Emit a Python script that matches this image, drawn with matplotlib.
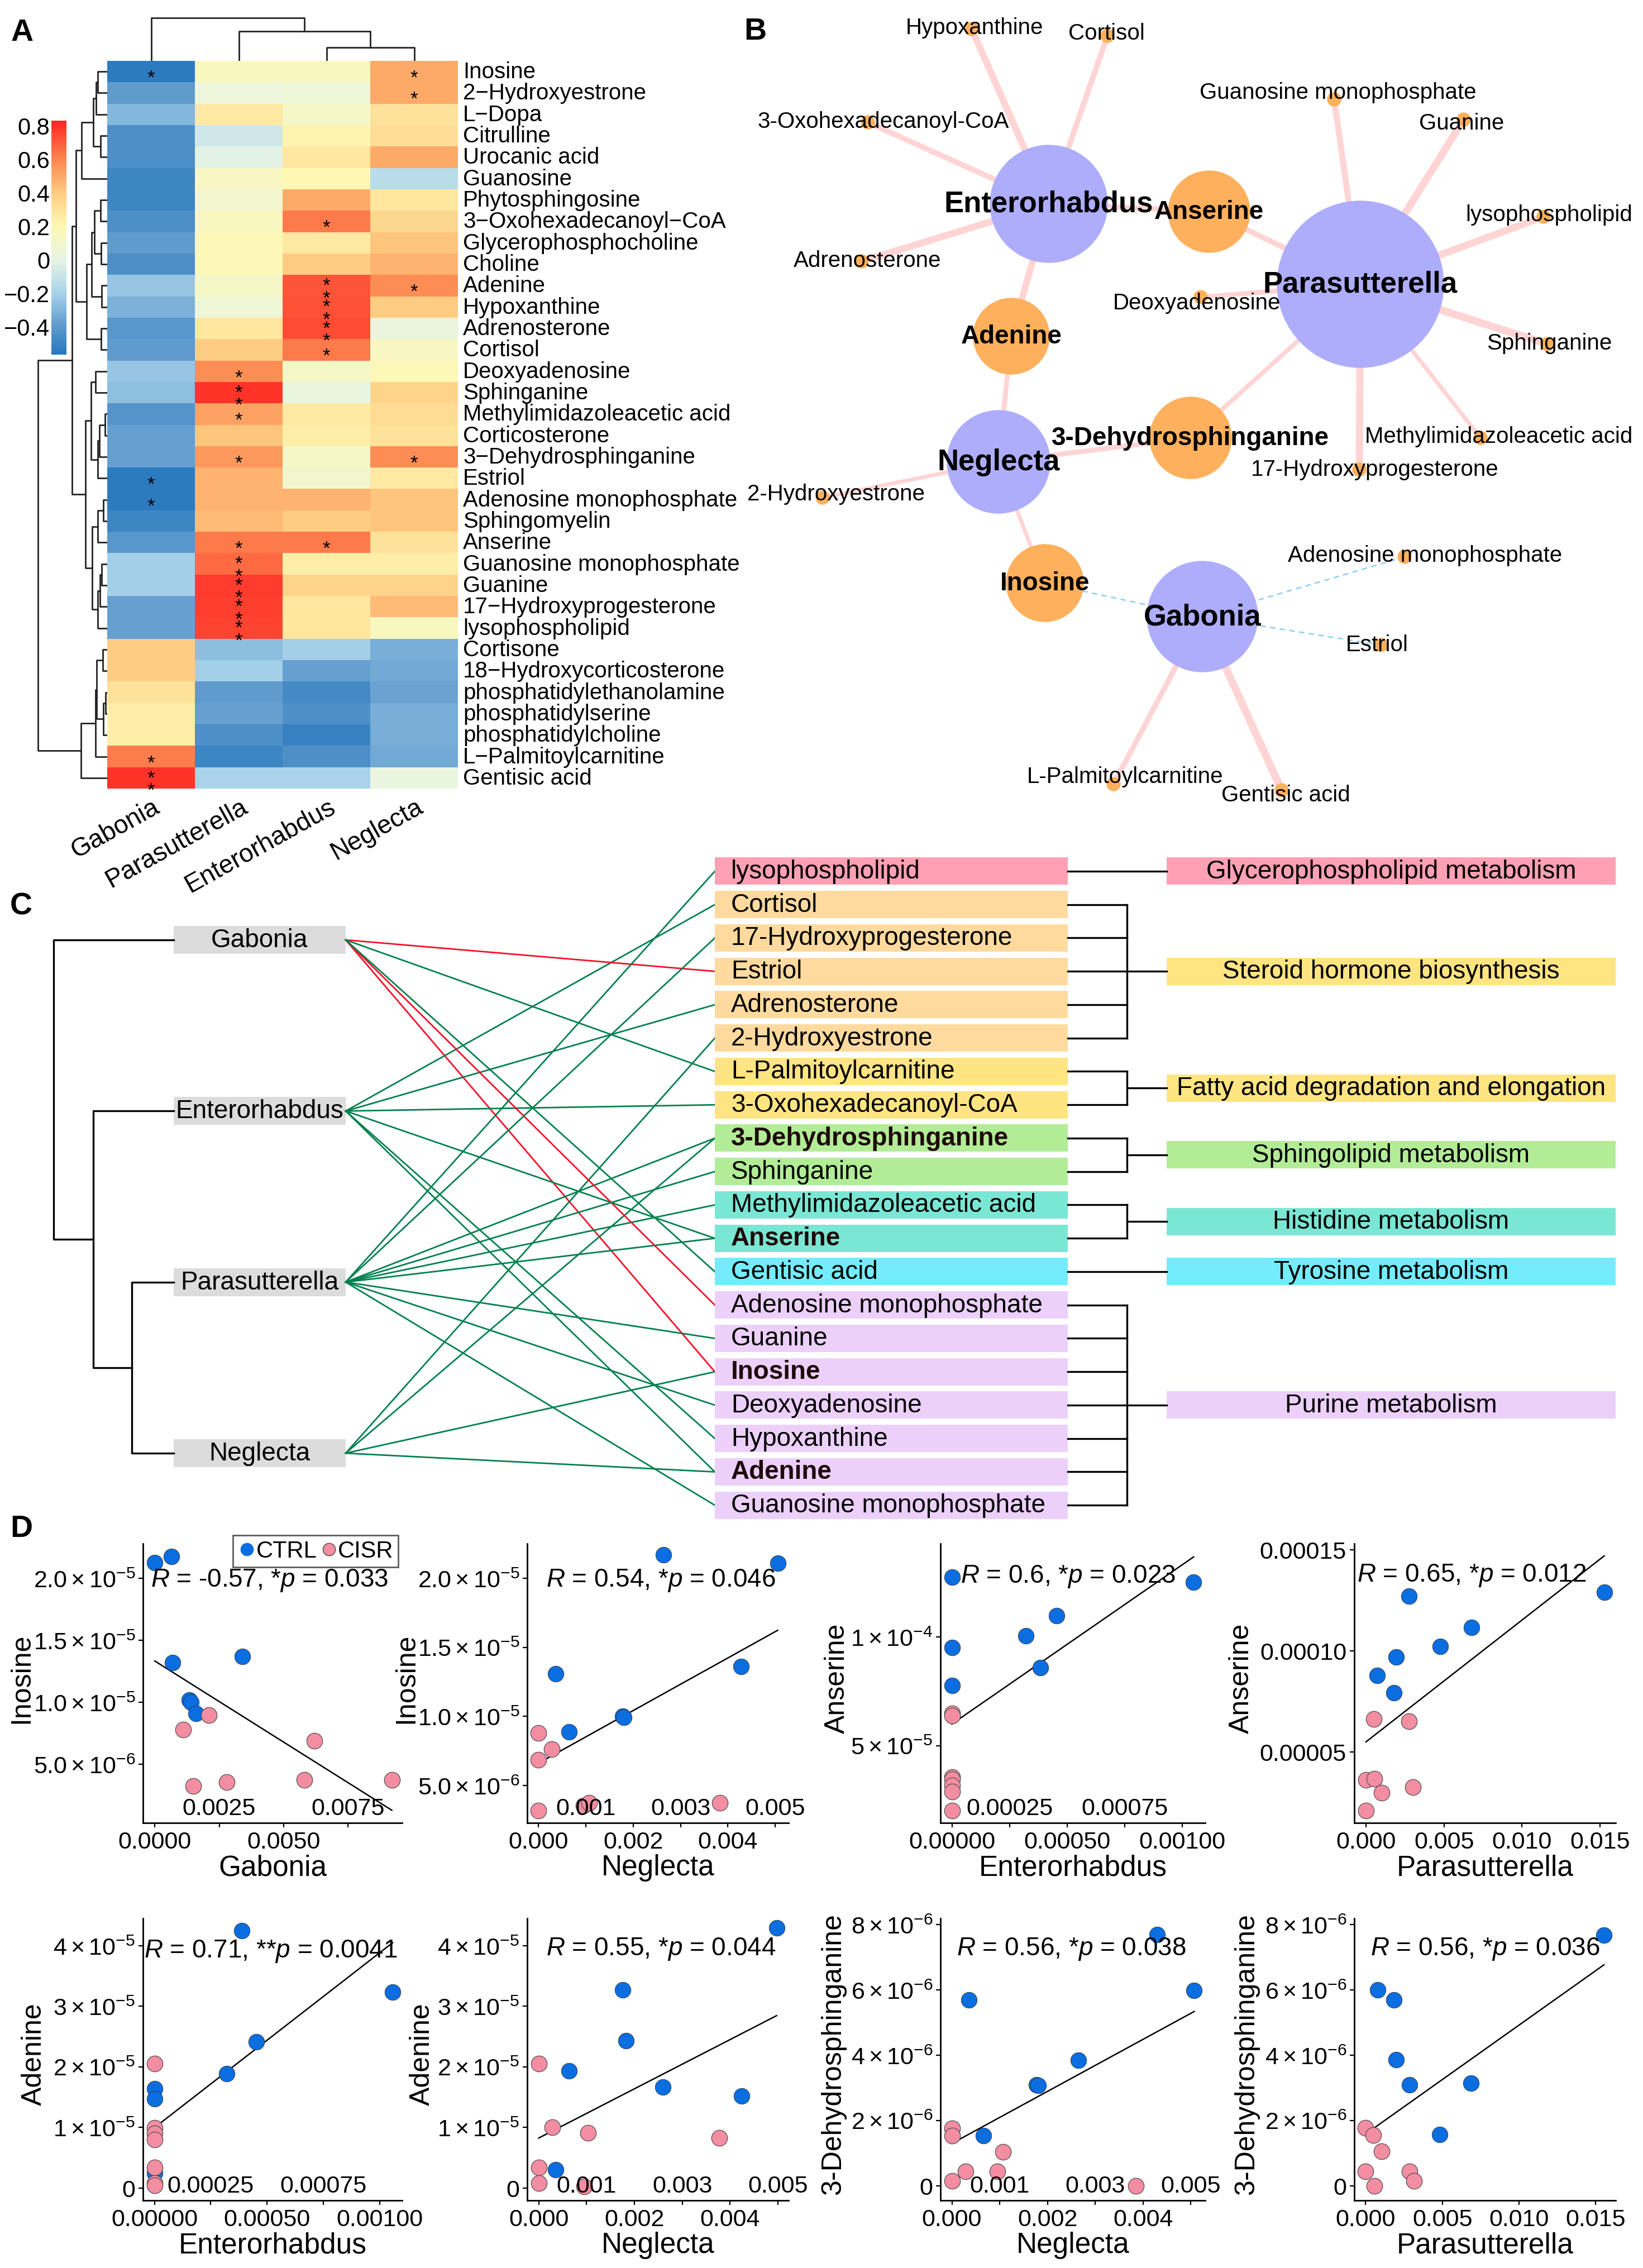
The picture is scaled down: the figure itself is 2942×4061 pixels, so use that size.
import numpy as np
import matplotlib
matplotlib.use("Agg")
import matplotlib.pyplot as plt
from matplotlib.colors import LinearSegmentedColormap
from matplotlib.patches import Rectangle, Circle
from matplotlib.lines import Line2D

plt.rcParams["font.family"] = ["Liberation Sans", "DejaVu Sans"]
plt.rcParams["mathtext.fontset"] = "custom"
plt.rcParams["mathtext.rm"] = "Liberation Sans"
plt.rcParams["mathtext.it"] = "Liberation Sans:italic"
plt.rcParams["mathtext.bf"] = "Liberation Sans:bold"

W, H = 2942, 4062

# ---------------- A: correlation heatmap ----------------
hm_taxa = ["Gabonia", "Parasutterella", "Enterorhabdus", "Neglecta"]
hm_metabolites = [
    "Inosine", "2-Hydroxyestrone", "L-Dopa", "Citrulline", "Urocanic acid",
    "Guanosine", "Phytosphingosine", "3-Oxohexadecanoyl-CoA",
    "Glycerophosphocholine", "Choline", "Adenine", "Hypoxanthine",
    "Adrenosterone", "Cortisol", "Deoxyadenosine", "Sphinganine",
    "Methylimidazoleacetic acid", "Corticosterone", "3-Dehydrosphinganine",
    "Estriol", "Adenosine monophosphate", "Sphingomyelin", "Anserine",
    "Guanosine monophosphate", "Guanine", "17-Hydroxyprogesterone",
    "lysophospholipid", "Cortisone", "18-Hydroxycorticosterone",
    "phosphatidylethanolamine", "phosphatidylserine", "phosphatidylcholine",
    "L-Palmitoylcarnitine", "Gentisic acid",
]
hm_gabonia = [-0.55, -0.40, -0.30, -0.45, -0.45, -0.50, -0.50, -0.45, -0.40, -0.45,
              -0.25, -0.32, -0.42, -0.40, -0.25, -0.27, -0.43, -0.38, -0.38, -0.55,
              -0.55, -0.50, -0.42, -0.22, -0.22, -0.38, -0.38, 0.40, 0.40, 0.30,
              0.25, 0.25, 0.62, 0.80]
hm_parasutterella = [0.15, 0.04, 0.27, -0.08, -0.02, 0.14, 0.10, 0.15, 0.18, 0.18,
                     0.12, 0.06, 0.28, 0.40, 0.58, 0.80, 0.52, 0.42, 0.55, 0.47,
                     0.47, 0.45, 0.63, 0.67, 0.78, 0.77, 0.76, -0.28, -0.22, -0.40,
                     -0.38, -0.45, -0.50, -0.20]
hm_enterorhabdus = [0.15, 0.05, 0.12, 0.22, 0.28, 0.20, 0.50, 0.63, 0.27, 0.40,
                    0.72, 0.73, 0.74, 0.63, 0.12, 0.02, 0.27, 0.25, 0.12, 0.10,
                    0.47, 0.40, 0.63, 0.25, 0.37, 0.28, 0.28, -0.22, -0.38, -0.48,
                    -0.45, -0.52, -0.45, -0.20]
hm_neglecta = [0.50, 0.50, 0.30, 0.32, 0.50, -0.15, 0.28, 0.35, 0.42, 0.47,
               0.58, 0.40, 0.03, 0.13, 0.18, 0.37, 0.33, 0.30, 0.58, 0.27,
               0.42, 0.42, 0.30, 0.25, 0.37, 0.45, 0.15, -0.33, -0.35, -0.37,
               -0.33, -0.33, -0.35, 0.02]

# row clustering: (child, child, height) scipy-style ids
row_tree = [
    (0, 1, 16.7), (34, 2, 20.0), (3, 4, 11.7), (35, 36, 25.0), (37, 5, 46.0),
    (6, 7, 11.7), (8, 9, 10.7), (39, 40, 22.7), (10, 11, 10.0), (41, 42, 28.3),
    (12, 13, 10.7), (43, 44, 37.3), (38, 45, 56.0), (14, 15, 20.7), (16, 17, 4.0),
    (48, 18, 14.0), (49, 19, 17.3), (47, 50, 29.3), (20, 21, 7.3), (52, 22, 16.7),
    (23, 24, 10.0), (54, 25, 13.3), (55, 26, 16.7), (53, 56, 26.7), (51, 57, 39.3),
    (46, 58, 63.3), (27, 28, 8.3), (29, 30, 3.3), (61, 31, 7.3), (60, 62, 19.3),
    (63, 32, 20.7), (64, 33, 47.3), (59, 65, 124.0),
]
col_tree = [(2, 3, 24), (1, 4, 53), (0, 5, 77)]

# significant pairs (metabolite, taxon, number of stars)
sig = [
    ("Inosine", "Gabonia", 1), ("Inosine", "Neglecta", 1),
    ("2-Hydroxyestrone", "Neglecta", 1),
    ("3-Oxohexadecanoyl-CoA", "Enterorhabdus", 1),
    ("Adenine", "Enterorhabdus", 2), ("Adenine", "Neglecta", 1),
    ("Hypoxanthine", "Enterorhabdus", 2),
    ("Adrenosterone", "Enterorhabdus", 2),
    ("Cortisol", "Enterorhabdus", 1),
    ("Deoxyadenosine", "Parasutterella", 1),
    ("Sphinganine", "Parasutterella", 2),
    ("Methylimidazoleacetic acid", "Parasutterella", 1),
    ("3-Dehydrosphinganine", "Parasutterella", 1), ("3-Dehydrosphinganine", "Neglecta", 1),
    ("Estriol", "Gabonia", 1),
    ("Adenosine monophosphate", "Gabonia", 1),
    ("Anserine", "Parasutterella", 1), ("Anserine", "Enterorhabdus", 1),
    ("Guanosine monophosphate", "Parasutterella", 2),
    ("Guanine", "Parasutterella", 2),
    ("17-Hydroxyprogesterone", "Parasutterella", 2),
    ("lysophospholipid", "Parasutterella", 2),
    ("L-Palmitoylcarnitine", "Gabonia", 1),
    ("Gentisic acid", "Gabonia", 2),
]

# ---------------- C: pathways ----------------
c_taxa = ["Gabonia", "Enterorhabdus", "Parasutterella", "Neglecta"]
c_tree = [(2, 3, 75), (1, 4, 144), (0, 5, 215)]
pathways = ["Glycerophospholipid metabolism", "Steroid hormone biosynthesis",
            "Fatty acid degradation and elongation", "Sphingolipid metabolism",
            "Histidine metabolism", "Tyrosine metabolism", "Purine metabolism"]
pathway_members = [
    ["lysophospholipid"],
    ["Cortisol", "17-Hydroxyprogesterone", "Estriol", "Adrenosterone", "2-Hydroxyestrone"],
    ["L-Palmitoylcarnitine", "3-Oxohexadecanoyl-CoA"],
    ["3-Dehydrosphinganine", "Sphinganine"],
    ["Methylimidazoleacetic acid", "Anserine"],
    ["Gentisic acid"],
    ["Adenosine monophosphate", "Guanine", "Inosine", "Deoxyadenosine",
     "Hypoxanthine", "Adenine", "Guanosine monophosphate"],
]

# ---------------- D: scatter data ----------------
ino_gab_ctrl_x = [0.0, 0.00065, 0.00069, 0.0034, 0.00135, 0.0014, 0.0016]
ino_gab_ctrl_y = [2.125e-5, 2.175e-5, 1.32e-5, 1.37e-5, 1.02e-5, 1.0e-5, 9.1e-6]
ino_gab_cisr_x = [0.0011, 0.0021, 0.0062, 0.0015, 0.0028, 0.0058, 0.0092]
ino_gab_cisr_y = [7.8e-6, 8.95e-6, 6.9e-6, 3.23e-6, 3.53e-6, 3.75e-6, 3.75e-6]

ino_neg_ctrl_x = [0.00264, 0.00505, 0.00036, 0.00428, 0.00178, 0.0018, 0.00065]
ino_neg_ctrl_y = [2.17e-5, 2.11e-5, 1.31e-5, 1.36e-5, 1.0e-5, 9.95e-6, 8.9e-6]
ino_neg_cisr_x = [0.0, 0.00028, 0.0, 0.0, 0.00095, 0.00107, 0.00383]
ino_neg_cisr_y = [8.8e-6, 7.65e-6, 6.85e-6, 3.2e-6, 3.56e-6, 3.74e-6, 3.74e-6]

ans_ent_ctrl_x = [0.0, 0.00105, 0.000454, 0.00032, 0.0, 0.000384, 0.0]
ans_ent_ctrl_y = [1.276e-4, 1.253e-4, 1.098e-4, 1.006e-4, 9.52e-5, 8.59e-5, 7.76e-5]
ans_ent_cisr_x = [0.0, 0.0, 0.0, 0.0, 0.0, 0.0, 0.0]
ans_ent_cisr_y = [6.49e-5, 6.38e-5, 3.56e-5, 3.45e-5, 3.16e-5, 2.87e-5, 2.01e-5]

ans_par_ctrl_x = [0.00277, 0.01527, 0.00675, 0.00476, 0.00195, 0.00072, 0.00178]
ans_par_ctrl_y = [1.269e-4, 1.29e-4, 1.115e-4, 1.022e-4, 9.69e-5, 8.79e-5, 7.93e-5]
ans_par_cisr_x = [0.00051, 0.00277, 0.0, 0.00055, 0.003, 0.001, 0.0]
ans_par_cisr_y = [6.63e-5, 6.5e-5, 3.62e-5, 3.67e-5, 3.24e-5, 2.97e-5, 2.08e-5]

ade_ent_ctrl_x = [0.000388, 0.001058, 0.000453, 0.000321, 0.0, 0.0, 0.0]
ade_ent_ctrl_y = [4.25e-5, 3.23e-5, 2.41e-5, 1.89e-5, 1.64e-5, 1.475e-5, 2.5e-6]
ade_ent_cisr_x = [0.0, 0.0, 0.0, 0.0, 0.0, 0.0, 0.0]
ade_ent_cisr_y = [2.05e-5, 9.9e-6, 9.0e-6, 8.0e-6, 3.4e-6, 8e-7, 4e-7]

ade_neg_ctrl_x = [0.00497, 0.00176, 0.00182, 0.00063, 0.00259, 0.00424, 0.00036]
ade_neg_ctrl_y = [4.29e-5, 3.27e-5, 2.43e-5, 1.93e-5, 1.67e-5, 1.52e-5, 3.0e-6]
ade_neg_cisr_x = [0.0, 0.00029, 0.00103, 0.00377, 0.0, 0.0, 0.00095]
ade_neg_cisr_y = [2.05e-5, 1.0e-5, 9.1e-6, 8.3e-6, 3.4e-6, 8e-7, 3e-7]

dhs_neg_ctrl_x = [0.0043, 0.00507, 0.00036, 0.00265, 0.00177, 0.00181, 0.00066]
dhs_neg_ctrl_y = [7.69e-6, 5.99e-6, 5.69e-6, 3.85e-6, 3.1e-6, 3.08e-6, 1.54e-6]
dhs_neg_cisr_x = [0.0, 0.0, 0.00107, 0.00029, 0.00095, 0.0, 0.00385]
dhs_neg_cisr_y = [1.76e-6, 1.53e-6, 1.04e-6, 4.4e-7, 4.4e-7, 1.5e-7, 0.0]

dhs_par_ctrl_x = [0.01554, 0.00078, 0.00186, 0.00199, 0.00287, 0.00686, 0.00483]
dhs_par_ctrl_y = [7.68e-6, 6.0e-6, 5.7e-6, 3.87e-6, 3.1e-6, 3.14e-6, 1.57e-6]
dhs_par_cisr_x = [0.0, 0.0005, 0.00105, 0.0, 0.00287, 0.00314, 0.00057]
dhs_par_cisr_y = [1.78e-6, 1.55e-6, 1.06e-6, 4.4e-7, 4.4e-7, 1.5e-7, 0.0]

d_stats = ["$R$ = -0.57, *$p$ = 0.033", "$R$ = 0.54, *$p$ = 0.046",
           "$R$ = 0.6, *$p$ = 0.023", "$R$ = 0.65, *$p$ = 0.012",
           "$R$ = 0.71, **$p$ = 0.0041", "$R$ = 0.55, *$p$ = 0.044",
           "$R$ = 0.56, *$p$ = 0.038", "$R$ = 0.56, *$p$ = 0.036"]


fig = plt.figure(figsize=(W / 100, H / 100), dpi=100)


def px_axes(x0, y0, x1, y1):
    return fig.add_axes([x0 / W, 1 - y1 / H, (x1 - x0) / W, (y1 - y0) / H])


def tree_segments(leaf_pos, merges):
    pos = list(leaf_pos)
    hts = [0.0] * len(leaf_pos)
    segs = []
    for a, b, h in merges:
        segs.append([(pos[a], hts[a]), (pos[a], h), (pos[b], h), (pos[b], hts[b])])
        pos.append((pos[a] + pos[b]) / 2)
        hts.append(h)
    return segs


def panel_letter(x, y, s):
    fig.text(x / W, 1 - y / H, s, fontsize=40, fontweight="bold", ha="center", va="center")


corr = np.column_stack([hm_gabonia, hm_parasutterella, hm_enterorhabdus, hm_neglecta])
nrow = len(hm_metabolites)
vmin, vmax = -0.57, 0.83
cmap = LinearSegmentedColormap.from_list("hm", [
    (0.0, "#2878BE"), (0.121, "#5F9BCD"), (0.264, "#AAD4EB"), (0.407, "#E8F5E4"),
    (0.55, "#FFF8B4"), (0.693, "#FECD82"), (0.836, "#FD8750"), (1.0, "#FF2823")])

# ---- panel A ----
panel_letter(40, 59, "A")
ax_hm = px_axes(192, 110, 820, 1413)
ax_hm.pcolormesh(np.arange(5), np.arange(nrow + 1), corr, cmap=cmap, vmin=vmin, vmax=vmax)
ax_hm.set_xlim(0, 4)
ax_hm.set_ylim(nrow, 0)
ax_hm.axis("off")
for i, m in enumerate(hm_metabolites):
    ax_hm.text(4 + 9 / 157, i + 0.5, m.replace("-", "\u2212"), ha="left", va="center",
               fontsize=29, clip_on=False)
for j, t in enumerate(hm_taxa):
    ax_hm.text(j + 0.5 + 2 / 157, nrow + 10 / 38.3, t, rotation=29, ha="right", va="top",
               rotation_mode="anchor", fontsize=33, clip_on=False)
# stacked asterisks, one text per cell
for met, tax, lvl in sig:
    i = hm_metabolites.index(met)
    j = hm_taxa.index(tax)
    ax_hm.text(j + 0.5, i + 0.5 + 0.29, "\n".join(["*"] * lvl), ha="center", va="center",
               fontsize=25, linespacing=0.6)

ax_rd = px_axes(55, 110, 192, 1413)
for seg in tree_segments([i + 0.5 for i in range(nrow)], row_tree):
    ax_rd.plot([s[1] for s in seg], [s[0] for s in seg], color="#222222", lw=2.0)
ax_rd.set_xlim(137, 0)
ax_rd.set_ylim(nrow, 0)
ax_rd.axis("off")

ax_cd = px_axes(192, 25, 820, 110)
for seg in tree_segments([j + 0.5 for j in range(4)], col_tree):
    ax_cd.plot([s[0] for s in seg], [s[1] for s in seg], color="#222222", lw=2.0)
ax_cd.set_xlim(0, 4)
ax_cd.set_ylim(0, 85)
ax_cd.axis("off")

ax_cb = px_axes(92, 217, 119, 636)
ax_cb.imshow(np.linspace(vmin, vmax, 300)[:, None], aspect="auto", cmap=cmap,
             vmin=vmin, vmax=vmax, origin="lower", extent=[0, 1, vmin, vmax])
cb_ticks = [-0.4, -0.2, 0, 0.2, 0.4, 0.6, 0.8]
ax_cb.set_xticks([])
ax_cb.set_yticks(cb_ticks)
ax_cb.set_yticklabels(["\u22120.4", "\u22120.2", "0", "0.2", "0.4", "0.6", "0.8"])
ax_cb.tick_params(axis="y", length=0, pad=2, labelsize=30)
for s in ax_cb.spines.values():
    s.set_visible(False)

# ---- panel B: network ----
panel_letter(1352, 57, "B")
net_layout = {
    "Enterorhabdus": (1878, 366, 105), "Parasutterella": (2436, 510, 149),
    "Neglecta": (1788, 828, 92), "Gabonia": (2153, 1105, 99),
    "Anserine": (2165, 380, 73), "Adenine": (1811, 603, 68),
    "3-Dehydrosphinganine": (2132, 785, 73), "Inosine": (1871, 1045, 69),
    "Hypoxanthine": (1740, 53, 12), "Cortisol": (1983, 65, 12),
    "3-Oxohexadecanoyl-CoA": (1554, 220, 12), "Adrenosterone": (1543, 469, 12),
    "Guanosine monophosphate": (2389, 179, 12), "Guanine": (2621, 215, 12),
    "lysophospholipid": (2764, 389, 12), "Sphinganine": (2771, 617, 12),
    "Methylimidazoleacetic acid": (2651, 785, 12), "17-Hydroxyprogesterone": (2434, 842, 12),
    "Deoxyadenosine": (2150, 533, 12), "2-Hydroxyestrone": (1473, 892, 12),
    "Adenosine monophosphate": (2515, 998, 12), "Estriol": (2473, 1156, 12),
    "L-Palmitoylcarnitine": (1994, 1405, 12), "Gentisic acid": (2295, 1416, 12),
}
net_label_shift = {
    "Hypoxanthine": (5, -3), "Cortisol": (-2, -5), "3-Oxohexadecanoyl-CoA": (28, -2),
    "Adrenosterone": (10, -2), "Guanosine monophosphate": (7, -13), "Guanine": (-4, 6),
    "lysophospholipid": (10, -4), "Sphinganine": (3, -2),
    "Methylimidazoleacetic acid": (33, -3), "17-Hydroxyprogesterone": (28, -1),
    "Deoxyadenosine": (-7, 10), "2-Hydroxyestrone": (24, -7),
    "Adenosine monophosphate": (37, -3), "Estriol": (-7, -1),
    "L-Palmitoylcarnitine": (20, -14), "Gentisic acid": (7, 8),
}
ax_b = px_axes(1300, 0, W, 1480)
ax_b.set_xlim(1300, W)
ax_b.set_ylim(1480, 0)
ax_b.axis("off")
degree = {}
for met, tax, lvl in sig:
    degree[met] = degree.get(met, 0) + 1
    r = corr[hm_metabolites.index(met), hm_taxa.index(tax)]
    x0, y0, _ = net_layout[tax]
    x1, y1, _ = net_layout[met]
    if r > 0:
        ax_b.plot([x0, x1], [y0, y1], color="#FFD4D4", lw=(22 * abs(r) - 4) * 0.72,
                  solid_capstyle="butt", zorder=1)
    else:
        ax_b.plot([x0, x1], [y0, y1], color="#8CCFF8", lw=1.8, ls=(0, (4, 3)), zorder=1)
for name, (x, y, rad) in net_layout.items():
    if name in hm_taxa:
        ax_b.add_patch(Circle((x, y), rad, color="#AEADFB", zorder=2))
        ax_b.text(x, y, name, ha="center", va="center", fontsize=38, fontweight="bold", zorder=4)
    elif degree.get(name, 0) > 1:
        ax_b.add_patch(Circle((x, y), rad, color="#FEB05C", zorder=2))
        ax_b.text(x, y, name, ha="center", va="center", fontsize=33, fontweight="bold", zorder=4)
    else:
        ax_b.add_patch(Circle((x, y), rad, color="#FEB05C", zorder=3))
        dx, dy = net_label_shift[name]
        ax_b.text(x + dx, y + dy, name, ha="center", va="center", fontsize=29, zorder=4)

# ---- panel C: taxa -> metabolites -> pathways ----
panel_letter(38, 1624, "C")
ax_c = px_axes(0, 1490, W, 2740)
ax_c.set_xlim(0, W)
ax_c.set_ylim(2740, 1490)
ax_c.axis("off")
met_colors = ["#FFA0B4", "#FFDA9E", "#FFE482", "#B2EC96", "#7AE6D4", "#74ECFC", "#ECD0FA"]
path_colors = ["#FFA0B4", "#FFE482", "#FFE482", "#B2EC96", "#7AE6D4", "#74ECFC", "#ECD0FA"]
c_order = [m for grp in pathway_members for m in grp]
row_y = {m: 1561 + 59.75 * i for i, m in enumerate(c_order)}
taxa_y = dict(zip(c_taxa, np.linspace(1684, 2603, len(c_taxa))))

for seg in tree_segments([taxa_y[t] for t in c_taxa], c_tree):
    ax_c.plot([311 - s[1] for s in seg], [s[0] for s in seg], color="black", lw=2.4)
for t in c_taxa:
    ax_c.add_patch(Rectangle((311, taxa_y[t] - 25), 308, 50, color="#DCDCDC", lw=0))
    ax_c.text(465, taxa_y[t], t, ha="center", va="center", fontsize=33)

for met, tax, lvl in sig:
    r = corr[hm_metabolites.index(met), hm_taxa.index(tax)]
    ax_c.plot([619, 1280], [taxa_y[tax], row_y[met]], color="#00804E" if r > 0 else "#F5102A",
              lw=2.0, zorder=1)

for g, (pw, members) in enumerate(zip(pathways, pathway_members)):
    ys = [row_y[m] for m in members]
    for m in members:
        ax_c.add_patch(Rectangle((1280, row_y[m] - 24.5), 632, 49, color=met_colors[g], lw=0))
        bold = degree.get(m, 0) > 1
        ax_c.text(1309, row_y[m], m, ha="left", va="center", fontsize=33,
                  fontweight="bold" if bold else "normal",
                  color="#1E0A0A" if bold else "black")
    yc = np.mean(ys)
    ax_c.add_patch(Rectangle((2089, yc - 24.5), 804, 49, color=path_colors[g], lw=0))
    ax_c.text(2491, yc, pw, ha="center", va="center", fontsize=33)
    if len(members) == 1:
        ax_c.plot([1912, 2089], [yc, yc], color="black", lw=2.4)
    else:
        for y in ys:
            ax_c.plot([1912, 2018], [y, y], color="black", lw=2.4)
        ax_c.plot([2018, 2018], [min(ys), max(ys)], color="black", lw=2.4)
        ax_c.plot([2018, 2089], [yc, yc], color="black", lw=2.4)

# ---- panel D: scatter plots ----
panel_letter(38, 2738, "D")
d_cols = [(256, 720), (944, 1412), (1684, 2158), (2425, 2893)]
d_rows = [(2765, 3265), (3436, 3941)]

sci5 = [r"$5.0\times10^{-6}$", r"$1.0\times10^{-5}$", r"$1.5\times10^{-5}$", r"$2.0\times10^{-5}$"]
d_specs = [
    ("Gabonia", "Inosine", ino_gab_ctrl_x, ino_gab_ctrl_y, ino_gab_cisr_x, ino_gab_cisr_y,
     (-0.00046, 0.0096), (2.6e-7, 2.28e-5), [5e-6, 1e-5, 1.5e-5, 2e-5], sci5,
     [0, 0.005], [0.0025, 0.0075], 4, (0.03, 0.87), -218),
    ("Neglecta", "Inosine", ino_neg_ctrl_x, ino_neg_ctrl_y, ino_neg_cisr_x, ino_neg_cisr_y,
     (-0.00024, 0.00528), (2.3e-6, 2.25e-5), [5e-6, 1e-5, 1.5e-5, 2e-5], sci5,
     [0, 0.002, 0.004], [0.001, 0.003, 0.005], 3, (0.073, 0.87), -217),
    ("Enterorhabdus", "Anserine", ans_ent_ctrl_x, ans_ent_ctrl_y, ans_ent_cisr_x, ans_ent_cisr_y,
     (-0.00005, 0.0011), (1.44e-5, 1.43e-4), [5e-5, 1e-4],
     [r"$5\times10^{-5}$", r"$1\times10^{-4}$"],
     [0, 0.0005, 0.001], [0.00025, 0.00075], 5, (0.076, 0.884), -185),
    ("Parasutterella", "Anserine", ans_par_ctrl_x, ans_par_ctrl_y, ans_par_cisr_x, ans_par_cisr_y,
     (-0.00075, 0.016), (1.48e-5, 1.53e-4), [5e-5, 1e-4, 1.5e-4],
     ["0.00005", "0.00010", "0.00015"],
     [0, 0.005, 0.01, 0.015], [], 3, (0.01, 0.888), -202),
    ("Enterorhabdus", "Adenine", ade_ent_ctrl_x, ade_ent_ctrl_y, ade_ent_cisr_x, ade_ent_cisr_y,
     (-0.000051, 0.0011), (-2.05e-6, 4.45e-5), [0, 1e-5, 2e-5, 3e-5, 4e-5],
     ["0", r"$1\times10^{-5}$", r"$2\times10^{-5}$", r"$3\times10^{-5}$", r"$4\times10^{-5}$"],
     [0, 0.0005, 0.001], [0.00025, 0.00075], 5, (0.005, 0.886), -195),
    ("Neglecta", "Adenine", ade_neg_ctrl_x, ade_neg_ctrl_y, ade_neg_cisr_x, ade_neg_cisr_y,
     (-0.00024, 0.00522), (-2.05e-6, 4.45e-5), [0, 1e-5, 2e-5, 3e-5, 4e-5],
     ["0", r"$1\times10^{-5}$", r"$2\times10^{-5}$", r"$3\times10^{-5}$", r"$4\times10^{-5}$"],
     [0, 0.002, 0.004], [0.001, 0.003, 0.005], 3, (0.072, 0.894), -188),
    ("Neglecta", "3-Dehydrosphinganine", dhs_neg_ctrl_x, dhs_neg_ctrl_y, dhs_neg_cisr_x, dhs_neg_cisr_y,
     (-0.00024, 0.0053), (-4.5e-7, 8.19e-6), [0, 2e-6, 4e-6, 6e-6, 8e-6],
     ["0", r"$2\times10^{-6}$", r"$4\times10^{-6}$", r"$6\times10^{-6}$", r"$8\times10^{-6}$"],
     [0, 0.002, 0.004], [0.001, 0.003, 0.005], 3, (0.061, 0.894), -192),
    ("Parasutterella", "3-Dehydrosphinganine", dhs_par_ctrl_x, dhs_par_ctrl_y, dhs_par_cisr_x, dhs_par_cisr_y,
     (-0.00074, 0.0163), (-4.5e-7, 8.19e-6), [0, 2e-6, 4e-6, 6e-6, 8e-6],
     ["0", r"$2\times10^{-6}$", r"$4\times10^{-6}$", r"$6\times10^{-6}$", r"$8\times10^{-6}$"],
     [0, 0.005, 0.01, 0.015], [], 3, (0.062, 0.894), -193),
]

ctrl_color, cisr_color = "#0A6EE0", "#F28DA2"
for k, spec in enumerate(d_specs):
    (xlab, ylab, cx, cy, sx, sy, xlim, ylim, yt, ytl, outer, inner, dec, rpos, ylab_dx) = spec
    x0, x1 = d_cols[k % 4]
    y0, y1 = d_rows[k // 4]
    ax = px_axes(x0, y0, x1, y1)
    ax.scatter(cx, cy, s=420, color=ctrl_color, edgecolor="#333333", linewidth=0.6, zorder=3)
    ax.scatter(sx, sy, s=420, color=cisr_color, edgecolor="#444444", linewidth=0.8, zorder=3)
    allx = np.array(cx + sx)
    ally = np.array(cy + sy)
    slope, icpt = np.polyfit(allx, ally, 1)
    xx = np.array([allx.min(), allx.max()])
    ax.plot(xx, slope * xx + icpt, color="black", lw=1.8, zorder=2)
    ax.set_xlim(*xlim)
    ax.set_ylim(*ylim)
    ticks = sorted(outer + inner)
    ax.set_xticks(ticks)
    ax.set_xticklabels([f"{t:.{dec}f}" if t in outer else "" for t in ticks])
    for t in inner:
        ax.text(t, 0.012, f"{t:.{dec}f}", transform=ax.get_xaxis_transform(),
                ha="center", va="bottom", fontsize=31)
    ax.set_yticks(yt)
    ax.set_yticklabels(ytl)
    ax.tick_params(labelsize=31, length=6, width=1.6, pad=4)
    for side in ["top", "right"]:
        ax.spines[side].set_visible(False)
    for side in ["left", "bottom"]:
        ax.spines[side].set_linewidth(2.0)
    ax.text(rpos[0], rpos[1], d_stats[k], transform=ax.transAxes, ha="left", va="center",
            fontsize=33)
    ax.text(ylab_dx / (x1 - x0), 0.52, ylab, transform=ax.transAxes, rotation=90,
            ha="center", va="center", fontsize=36)
    ax.text(0.5, -80 / (y1 - y0), xlab, transform=ax.transAxes, ha="center", va="center",
            fontsize=37)
    if k == 0:
        handles = [Line2D([], [], ls="", marker="o", ms=16, color=ctrl_color),
                   Line2D([], [], ls="", marker="o", ms=16, color=cisr_color,
                          markeredgecolor="#444444")]
        leg = ax.legend(handles, ["CTRL", "CISR"], ncol=2, loc="upper right",
                        bbox_to_anchor=(0.985, 1.03), frameon=True, fancybox=False,
                        edgecolor="#333333", handletextpad=0.0, columnspacing=0.1,
                        borderpad=0.2, handlelength=0.8, fontsize=30, borderaxespad=0)
        leg.get_frame().set_linewidth(2)

fig.savefig("out.png", dpi=100)
